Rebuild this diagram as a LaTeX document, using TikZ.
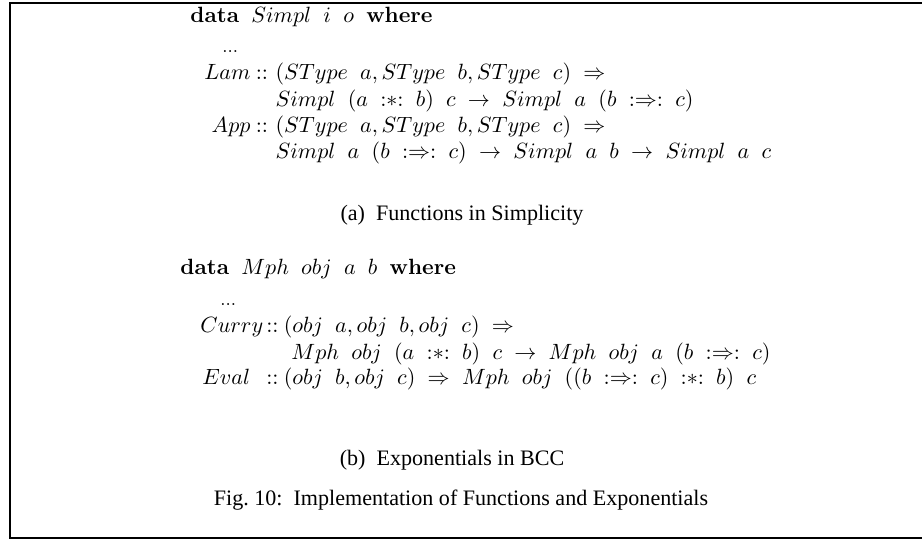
\documentclass[tikz,border=0pt]{standalone}
\usepackage{amsmath,amssymb}
\usepackage{fontspec}
\newfontfamily\capfont{Liberation Serif}
\usetikzlibrary{positioning}

\newcommand{\kw}[1]{\textbf{#1}}
\newcommand{\gap}{\mskip 10mu}
\newcommand{\pairop}{\gap{:}{\ast}{:}\gap}
\newcommand{\expop}{\gap{:}{\Rightarrow}{:}\gap}
\newcommand{\fnto}{\gap{\rightarrow}\gap}
\newcommand{\ctxto}{\gap{\Rightarrow}}

\begin{document}
\begin{tikzpicture}[x=0.453pt,y=-0.453pt,
  code/.style={anchor=base west,inner sep=0pt},
  capt/.style={anchor=base,inner sep=0pt,font=\capfont}]
  \useasboundingbox (0,0) rectangle (922,539);
  \clip (0,0) rectangle (922,539);
  \draw[line width=0.9pt] (960,3) -- (10,3) -- (10,537.5) -- (960,537.5);
  % (a) functions in Simplicity
  \node[code] (headA) at (190,22) {$\text{\kw{data}}\gap Simpl\gap i\gap o\gap\text{\kw{where}}$};
  \node[code] (dotsA) at (222,52) {\footnotesize...};
  \node[code] (lam) at (204,79) {$Lam$};
  \node[code,base right=2pt of lam] (lamcc) {${::}$};
  \node[code,base right=3pt of lamcc] (lamty) {$(SType\gap a,SType\gap b,SType\gap c)\ctxto$};
  \node[code] (lamfn) at (lamty.base west |- 0,106) {$Simpl\gap(a\pairop b)\gap c\fnto Simpl\gap a\gap(b\expop c)$};
  \node[code] (appcc) at (lamcc.base west |- 0,132) {${::}$};
  \node[code,base left=2pt of appcc] (app) {$App$};
  \node[code,base right=3pt of appcc] (appty) {$(SType\gap a,SType\gap b,SType\gap c)\ctxto$};
  \node[code] (appfn) at (lamty.base west |- 0,158) {$Simpl\gap a\gap(b\expop c)\fnto Simpl\gap a\gap b\fnto Simpl\gap a\gap c$};
  \node[capt] (capA) at (462,220) {(a)\enspace Functions in Simplicity};
  % (b) exponentials in BCC
  \node[code] (headB) at (180,274) {$\text{\kw{data}}\gap Mph\gap obj\gap a\gap b\gap\text{\kw{where}}$};
  \node[code] (dotsB) at (220,305) {\footnotesize...};
  \node[code] (curry) at (200,332) {$Curry$};
  \node[code,base right=1pt of curry] (currycc) {${::}$};
  \node[code,base right=2pt of currycc] (curryty) {$(obj\gap a,obj\gap b,obj\gap c)\ctxto$};
  \node[code] (curryfn) at (291,359) {$Mph\gap obj\gap(a\pairop b)\gap c\fnto Mph\gap obj\gap a\gap(b\expop c)$};
  \node[code] (eval) at (202,384) {$Eval$};
  \node[code] (evalcc) at (currycc.base west |- eval.base) {${::}$};
  \node[code,base right=2pt of evalcc] (evalty) {$(obj\gap b,obj\gap c)\ctxto\gap Mph\gap obj\gap((b\expop c)\pairop b)\gap c$};
  \node[capt] (capB) at (452,465) {(b)\enspace Exponentials in BCC};
  \node[capt] (fig) at (461,505) {Fig.~10:\enspace Implementation of Functions and Exponentials};
\end{tikzpicture}
\end{document}
